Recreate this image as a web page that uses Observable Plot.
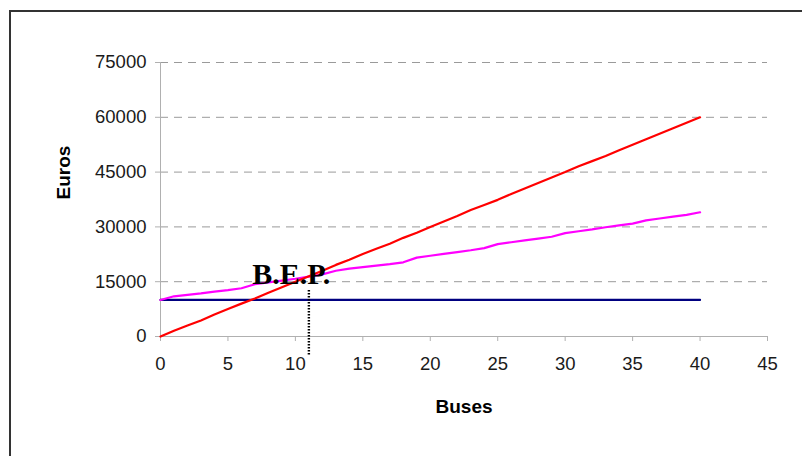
<!DOCTYPE html>
<html>
<head>
<meta charset="utf-8">
<script src="https://cdn.jsdelivr.net/npm/d3@7"></script>
<script src="https://cdn.jsdelivr.net/npm/@observablehq/plot@0.6"></script>
<style>
  html, body { margin: 0; padding: 0; background: #fff; }
  #wrap { position: relative; width: 802px; height: 456px; overflow: hidden; }
  #border { position: absolute; left: 9px; top: 10px; width: 900px; height: 900px;
            border-top: 2px solid #333; border-left: 2px solid #333; box-sizing: border-box; }
  #chart { position: absolute; left: 0; top: 0; }
</style>
</head>
<body>
<div id="wrap"><div id="border"></div><div id="chart"></div></div>
<script>
const buses = [0,1,2,3,4,5,6,7,8,9,10,11,12,13,14,15,16,17,18,19,20,21,22,23,24,25,26,27,28,29,30,31,32,33,34,35,36,37,38,39,40];
const revenue = [0,1600,3000,4400,6000,7500,9000,10400,12000,13500,15000,16500,18000,19600,21000,22600,24000,25400,27000,28400,30000,31500,33000,34600,36000,37400,39000,40500,42000,43500,45000,46600,48000,49400,51000,52500,54000,55500,57000,58500,60000];
const totalCost = [10000,11000,11400,11800,12300,12700,13200,14300,14800,15300,15800,16400,17000,18000,18600,19000,19400,19800,20300,21600,22100,22600,23100,23600,24200,25300,25800,26300,26800,27300,28300,28800,29300,29900,30400,30900,31800,32300,32800,33300,34000];
const fixedCost = [10000,10000];
const fixedX = [0,40];
const xTicks = [0,5,10,15,20,25,30,35,40,45];
const yTicks = [0,15000,30000,45000,60000,75000];
const bepX = 11;
const bepLine = [12600, -5500];
const bepLabel = "B.E.P.";

const rev = buses.map((b,i) => ({x:b, y:revenue[i]}));
const tc = buses.map((b,i) => ({x:b, y:totalCost[i]}));
const fc = fixedX.map((b,i) => ({x:b, y:fixedCost[i]}));

const font = "'Liberation Sans', Arial, sans-serif";

const chart = Plot.plot({
  width: 802, height: 456,
  marginLeft: 160, marginRight: 35, marginTop: 62, marginBottom: 120,
  style: {fontFamily: font, background: "transparent", overflow: "visible"},
  x: {domain: [0,45]},
  y: {domain: [0,75000]},
  marks: [
    Plot.gridY(yTicks.filter(d => d > 0), {stroke: "#9a9a9a", strokeOpacity: 1, strokeDasharray: "8,6"}),
    Plot.ruleX([0], {stroke: "#b0b0b0"}),
    Plot.ruleY([0], {stroke: "#b0b0b0"}),
    Plot.axisY({ticks: yTicks, tickSize: 5, tickPadding: 9, stroke: "#b0b0b0", fill: "#1a1a1a", fontSize: 18.5, label: null, tickFormat: d => String(d)}),
    Plot.axisX({ticks: xTicks, tickSize: 5, tickPadding: 15, stroke: "#b0b0b0", fill: "#1a1a1a", fontSize: 18.5, label: null, tickFormat: d => String(d)}),
    Plot.line(fc, {x: "x", y: "y", stroke: "#000080", strokeWidth: 2.2}),
    Plot.line(tc, {x: "x", y: "y", stroke: "#ff00ff", strokeWidth: 2.2}),
    Plot.line(rev, {x: "x", y: "y", stroke: "#ff0000", strokeWidth: 2.2}),
    Plot.ruleX([bepX], {y1: bepLine[0], y2: bepLine[1], stroke: "#000", strokeWidth: 2.4, strokeDasharray: "1.5,1.5", clip: false}),
    Plot.text([bepLabel], {x: 6.8, y: 14300, text: d => d, textAnchor: "start", lineAnchor: "bottom", fontFamily: "'Liberation Serif', 'Times New Roman', serif", fontWeight: "bold", fontSize: 30, fill: "#000"}),
    Plot.text(["Euros"], {frameAnchor: "left", dx: -97, rotate: -90, text: d => d, fontWeight: "bold", fontSize: 19, fill: "#000"}),
    Plot.text(["Buses"], {frameAnchor: "bottom", dy: 76, text: d => d, fontWeight: "bold", fontSize: 19, fill: "#000"})
  ]
});
document.getElementById("chart").appendChild(chart);
</script>
</body>
</html>
